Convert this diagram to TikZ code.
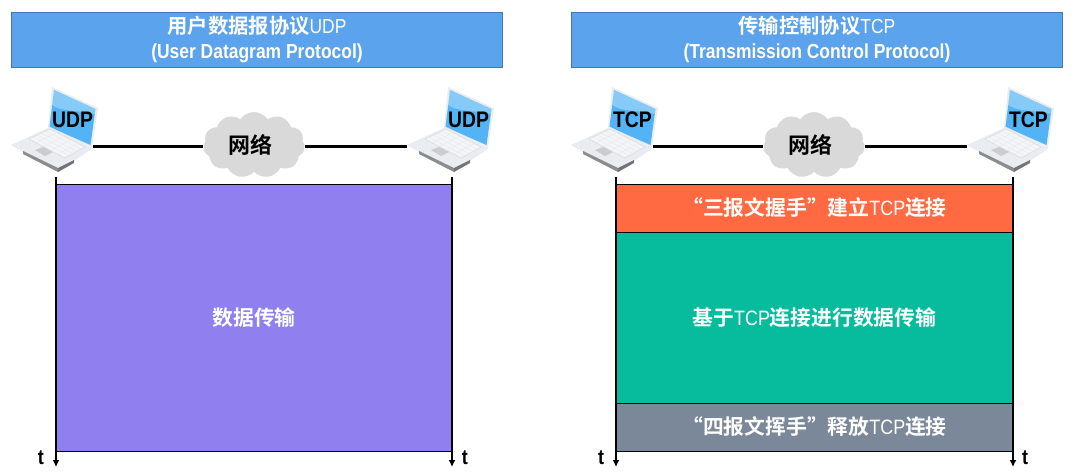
\documentclass[tikz,border=0pt]{standalone}
\usepackage{fontspec}
\usetikzlibrary{shapes.symbols,arrows.meta,calc}
\setmainfont{Liberation Sans}
\newfontfamily\cjk{Noto Sans CJK SC}[BoldFont={Noto Sans CJK SC Bold}]
\newfontfamily\lat{Liberation Sans}[FakeStretch=0.86]
\definecolor{headfill}{HTML}{5BA3EC}
\definecolor{headline}{HTML}{4279B5}
\definecolor{udpfill}{HTML}{8F7FEF}
\definecolor{synfill}{HTML}{FF6A42}
\definecolor{datafill}{HTML}{07BC9C}
\definecolor{finfill}{HTML}{7B8899}
\definecolor{cloudfill}{HTML}{D9D9D9}
\definecolor{screen}{HTML}{52B4F5}
\definecolor{shell}{HTML}{E9ECF1}
\definecolor{keys}{HTML}{F4F5F8}
\tikzset{
  x=1pt,y=-1pt,
  header/.style={draw=headline,line width=1pt,fill=headfill,text=white,minimum width=491pt,minimum height=55pt,inner sep=0pt,align=center,font=\fontsize{20.3}{25}\selectfont\bfseries},
  phase/.style={draw=black,line width=1pt,text=white,inner sep=0pt,font=\fontsize{20.8}{24}\selectfont\bfseries},
  netcloud/.style={cloud,cloud puffs=11,cloud puff arc=110,aspect=1.5,fill=cloudfill,inner sep=0pt,minimum width=102pt,minimum height=66pt,font=\fontsize{22}{24}\selectfont\cjk\bfseries},
  link/.style={line width=3pt},
  timeline/.style={line width=2pt,-{Latex[length=7pt,width=7pt]}},
  tick/.style={font=\fontsize{21}{22}\selectfont\lat\bfseries,inner sep=0pt},
  protocol/.style={font=\fontsize{22.5}{24}\selectfont\lat\bfseries,inner sep=0pt},
  pics/laptop/.style={code={
    % lid and display
    \fill[shell] (52,87) -- (98,108) -- (92,147) -- (48,128) -- cycle;
    \fill[screen] (54,90) -- (95.5,109) -- (90.5,145) -- (49.5,127) -- cycle;
    \fill[white,opacity=.3] (54,90) -- (95.5,109) -- (94.5,114) .. controls (78,110) and (62,112) .. (52,105) -- cycle;
    % base
    \fill[shell] (11,145) -- (50,127) -- (93,148) -- (58,172) -- cycle;
    \fill[black!45] (23,151) -- (58,168) -- (58,172) -- (23,154) -- cycle;
    \fill[black!55] (58,168) -- (74,160) -- (74,163) -- (58,172) -- cycle;
    \fill[keys,draw=black!15,line width=.5pt] (29,139) -- (50,129) -- (85,147) -- (65,158) -- cycle;
    \fill[black!20] (35,150) -- (43,147) -- (53,152) -- (45,156) -- cycle;
    \foreach \t in {.2,.4,.6,.8}{
      \draw[black!9,line width=.4pt] ($(29,139)!\t!(65,158)$) -- ($(50,129)!\t!(85,147)$);
      \draw[black!9,line width=.4pt] ($(29,139)!\t!(50,129)$) -- ($(65,158)!\t!(85,147)$);
    }
    \coordinate (-port) at (93,146);
    \coordinate (-left) at (11,146);
    \node[protocol] (-tag) at (72.5,120) {#1};
  }},
}
\begin{document}
\begin{tikzpicture}
\useasboundingbox (0,0) rectangle (1076,472);

% UDP column
\node[header] (udphead) at (257,39.5) {{\cjk 用户数据报协议}{\lat\mdseries UDP}\\{\lat (User Datagram Protocol)}};
\pic (ua) at (0,0) {laptop=UDP};
\pic (ub) at (396,0) {laptop=UDP};
\node[netcloud] (unet) at (254,145) {\hspace*{-7pt}网络};
\draw[link] (ua-port) -- (ua-port -| unet.west);
\draw[link] (ua-port -| unet.east) -- (ua-port -| ub-left);
\coordinate (ustartl) at (56,177);
\coordinate (uendl) at (56,467);
\coordinate (ustartr) at (452,177);
\coordinate (uendr) at (452,467);
\node[phase,fill=udpfill,minimum width=396pt,minimum height=267pt] (udata) at (254,317.5) {\cjk 数据传输};
\draw[timeline] (ustartl) -- (uendl);
\draw[timeline] (ustartr) -- (uendr);
\node[tick] (ut1) at (41,458) {t};
\node[tick] (ut2) at (465,458) {t};

% TCP column
\node[header] (tcphead) at (817,39.5) {{\cjk 传输控制协议}{\lat\mdseries TCP}\\{\lat (Transmission Control Protocol)}};
\pic (ta) at (560,0) {laptop=TCP};
\pic (tb) at (956,0) {laptop=TCP};
\node[netcloud] (tnet) at (814,145) {\hspace*{-7pt}网络};
\draw[link] (ta-port) -- (ta-port -| tnet.west);
\draw[link] (ta-port -| tnet.east) -- (ta-port -| tb-left);
\coordinate (tstartl) at (616,177);
\coordinate (tendl) at (616,467);
\coordinate (tstartr) at (1013,177);
\coordinate (tendr) at (1013,467);
\node[phase,fill=synfill,minimum width=397pt,minimum height=48pt] (syn) at (814.5,208) {{\cjk “三报文握手”建立}{\lat\mdseries TCP}{\cjk 连接}};
\node[phase,fill=datafill,minimum width=397pt,minimum height=171pt] (xfer) at (814.5,317.5) {{\cjk 基于}{\lat\mdseries TCP}{\cjk 连接进行数据传输}};
\node[phase,fill=finfill,minimum width=397pt,minimum height=48pt] (fin) at (814.5,427) {{\cjk “四报文挥手”释放}{\lat\mdseries TCP}{\cjk 连接}};
\draw[timeline] (tstartl) -- (tendl);
\draw[timeline] (tstartr) -- (tendr);
\node[tick] (tt1) at (601,458) {t};
\node[tick] (tt2) at (1025,458) {t};
\end{tikzpicture}
\end{document}
